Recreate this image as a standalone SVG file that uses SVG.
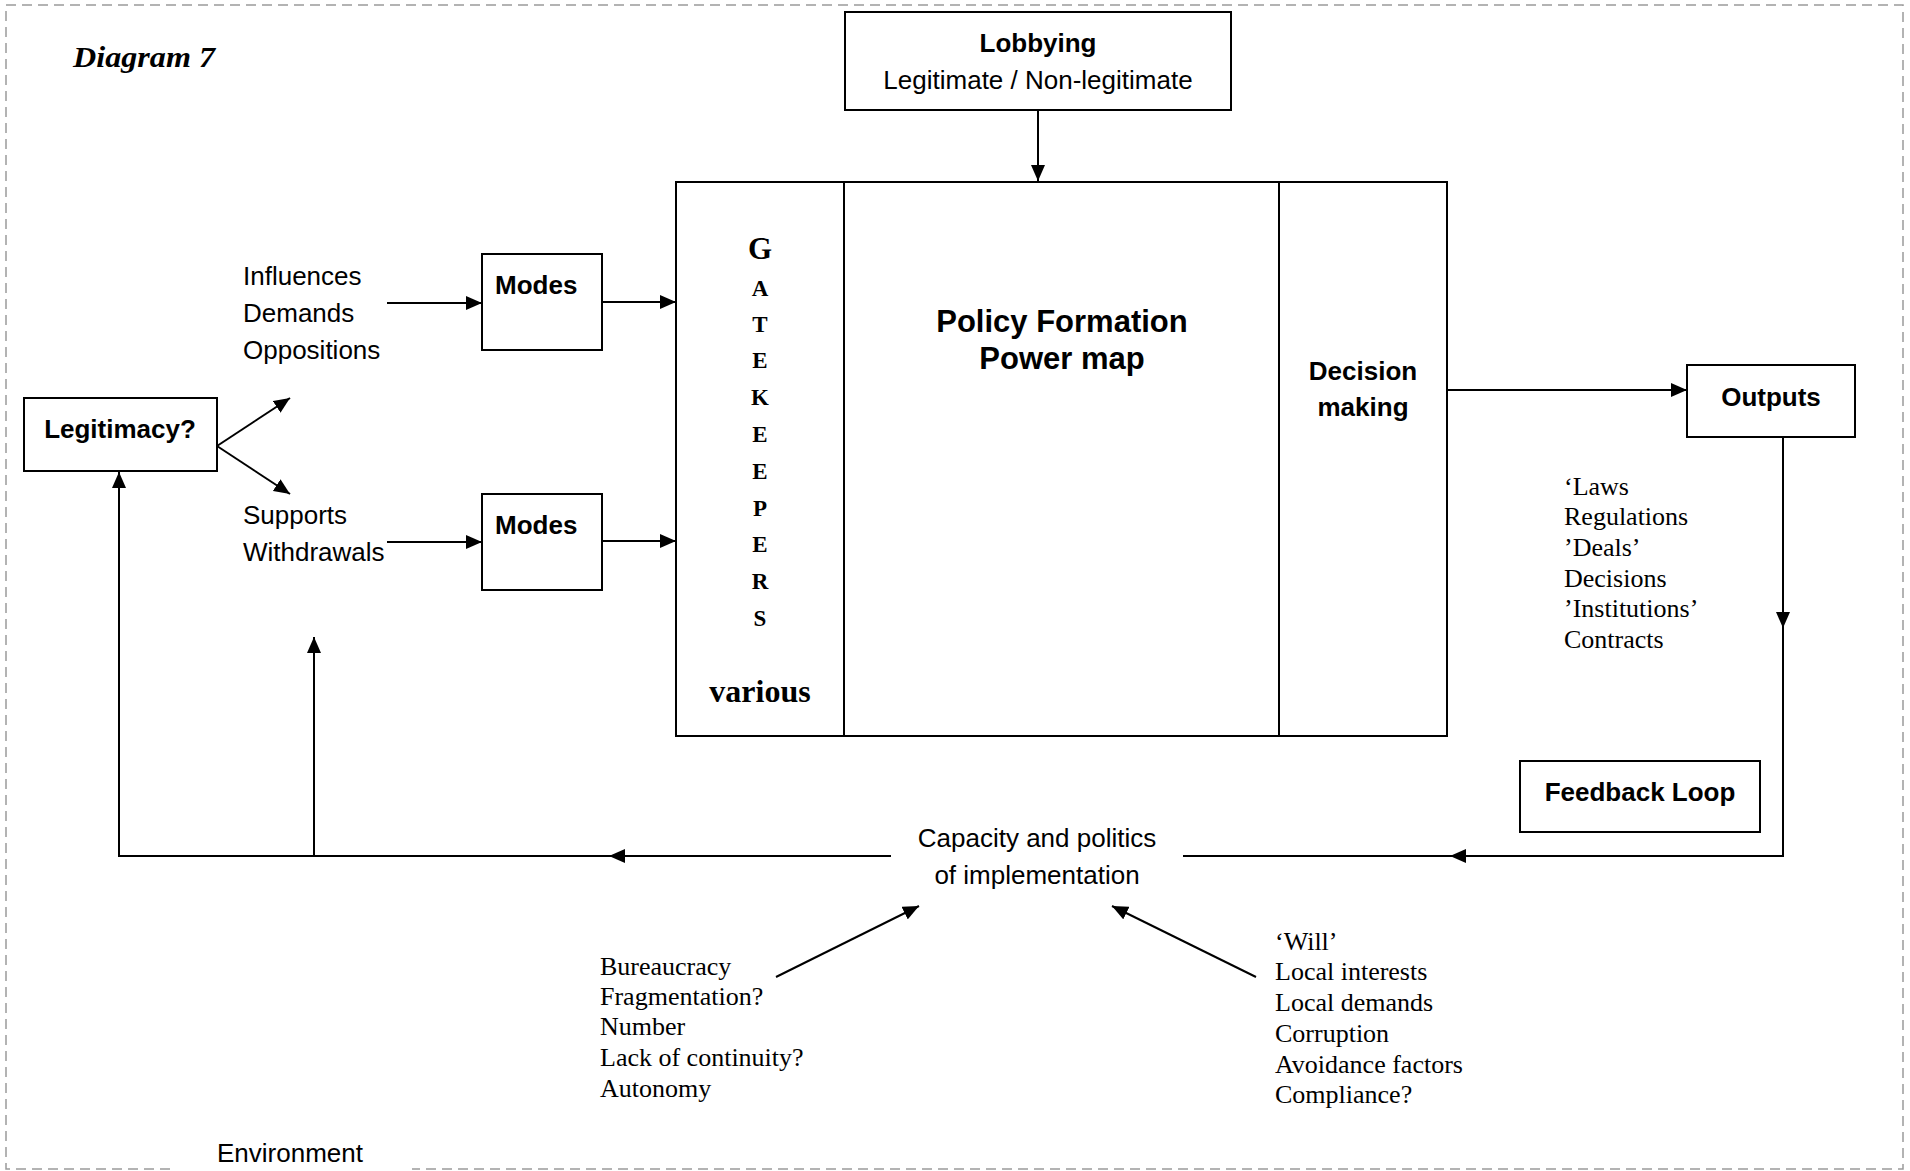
<svg xmlns="http://www.w3.org/2000/svg" width="1910" height="1171" viewBox="0 0 1910 1171">
  <style>
    .sans { font-family: "Liberation Sans", Arial, sans-serif; font-size: 26px; fill: #000; }
    .bold { font-weight: bold; }
    .big { font-size: 31px; }
    .serif { font-family: "Liberation Serif", "Times New Roman", serif; font-size: 26px; fill: #000; }
    .box { fill: #fff; stroke: #000; stroke-width: 2; }
    .conn { fill: none; stroke: #000; stroke-width: 2; }
    .frame { fill: none; stroke: #9a9a9a; stroke-width: 1.5; stroke-dasharray: 10 6; }
    .gk { font-family: "Liberation Serif", "Times New Roman", serif; font-weight: bold; font-size: 23px; text-anchor: middle; }
    .gk-initial { font-size: 31px; }
    .gk-note { font-size: 32px; }
  </style>
  <defs>
    <marker id="arrow" markerUnits="userSpaceOnUse" markerWidth="16" markerHeight="14" refX="16" refY="7" orient="auto">
      <path d="M0,0 L16,7 L0,14 z" fill="#000"/>
    </marker>
  </defs>

  <rect width="1910" height="1171" fill="#fff"/>

  <!-- dashed environment frame, open at the bottom for its label -->
  <path class="frame" d="M170,1169 H6 V5 H1903 V1169 H412"/>
  <text class="sans" x="217" y="1162">Environment</text>

  <text x="73" y="67" font-family="'Liberation Serif', 'Times New Roman', serif" font-size="29" font-weight="bold" font-style="italic" textLength="142" lengthAdjust="spacingAndGlyphs">Diagram 7</text>

  <!-- connectors -->
  <g id="connectors">
    <path class="conn" d="M1038,110 V181" marker-end="url(#arrow)"/>
    <path class="conn" d="M387,303 H482" marker-end="url(#arrow)"/>
    <path class="conn" d="M602,302 H676" marker-end="url(#arrow)"/>
    <path class="conn" d="M387,542 H482" marker-end="url(#arrow)"/>
    <path class="conn" d="M602,541 H676" marker-end="url(#arrow)"/>
    <path class="conn" d="M217,446 L290,398" marker-end="url(#arrow)"/>
    <path class="conn" d="M217,446 L290,494" marker-end="url(#arrow)"/>
    <path class="conn" d="M1447,390 H1687" marker-end="url(#arrow)"/>
    <path class="conn" d="M1783,437 V628" marker-end="url(#arrow)"/>
    <path class="conn" d="M1783,626 V856 H1450" marker-end="url(#arrow)"/>
    <path class="conn" d="M1452,856 H1183"/>
    <path class="conn" d="M891,856 H609" marker-end="url(#arrow)"/>
    <path class="conn" d="M611,856 H119 V472" marker-end="url(#arrow)"/>
    <path class="conn" d="M314,856 V637" marker-end="url(#arrow)"/>
    <path class="conn" d="M776,977 L919,906" marker-end="url(#arrow)"/>
    <path class="conn" d="M1256,977 L1112,906" marker-end="url(#arrow)"/>
  </g>

  <g id="lobbying">
    <rect class="box" x="845" y="12" width="386" height="98"/>
    <text class="sans bold" x="1038" y="52" text-anchor="middle">Lobbying</text>
    <text class="sans" x="1038" y="89" text-anchor="middle">Legitimate / Non-legitimate</text>
  </g>

  <g id="legitimacy">
    <rect class="box" x="24" y="398" width="193" height="73"/>
    <text class="sans bold" x="120" y="438" text-anchor="middle">Legitimacy?</text>
  </g>

  <g id="inputs-upper">
    <text class="sans" x="243" y="285">Influences</text>
    <text class="sans" x="243" y="322">Demands</text>
    <text class="sans" x="243" y="359">Oppositions</text>
  </g>

  <g id="inputs-lower">
    <text class="sans" x="243" y="524">Supports</text>
    <text class="sans" x="243" y="561">Withdrawals</text>
  </g>

  <g id="modes-upper">
    <rect class="box" x="482" y="254" width="120" height="96"/>
    <text class="sans bold" x="495" y="294">Modes</text>
  </g>

  <g id="modes-lower">
    <rect class="box" x="482" y="494" width="120" height="96"/>
    <text class="sans bold" x="495" y="534">Modes</text>
  </g>

  <g id="gatekeepers">
    <rect class="box" x="676" y="182" width="168" height="554"/>
    <text class="gk gk-initial" x="760" y="259">G</text>
    <text class="gk" x="760" y="296">A</text>
    <text class="gk" x="760" y="332">T</text>
    <text class="gk" x="760" y="368">E</text>
    <text class="gk" x="760" y="405">K</text>
    <text class="gk" x="760" y="442">E</text>
    <text class="gk" x="760" y="479">E</text>
    <text class="gk" x="760" y="516">P</text>
    <text class="gk" x="760" y="552">E</text>
    <text class="gk" x="760" y="589">R</text>
    <text class="gk" x="760" y="626">S</text>
    <text class="gk gk-note" x="760" y="702">various</text>
  </g>

  <g id="policy-formation">
    <rect class="box" x="844" y="182" width="435" height="554"/>
    <text class="sans bold big" x="1062" y="332" text-anchor="middle">Policy Formation</text>
    <text class="sans bold big" x="1062" y="369" text-anchor="middle">Power map</text>
  </g>

  <g id="decision-making">
    <rect class="box" x="1279" y="182" width="168" height="554"/>
    <text class="sans bold" x="1363" y="380" text-anchor="middle">Decision</text>
    <text class="sans bold" x="1363" y="416" text-anchor="middle">making</text>
  </g>

  <g id="outputs">
    <rect class="box" x="1687" y="365" width="168" height="72"/>
    <text class="sans bold" x="1771" y="406" text-anchor="middle">Outputs</text>
  </g>

  <g id="output-kinds">
    <text class="serif" x="1564" y="495">‘Laws</text>
    <text class="serif" x="1564" y="525">Regulations</text>
    <text class="serif" x="1564" y="556">’Deals’</text>
    <text class="serif" x="1564" y="587">Decisions</text>
    <text class="serif" x="1564" y="617">’Institutions’</text>
    <text class="serif" x="1564" y="648">Contracts</text>
  </g>

  <g id="feedback-loop">
    <rect class="box" x="1520" y="761" width="240" height="71"/>
    <text class="sans bold" x="1640" y="801" text-anchor="middle">Feedback Loop</text>
  </g>

  <g id="implementation">
    <text class="sans" x="1037" y="847" text-anchor="middle">Capacity and politics</text>
    <text class="sans" x="1037" y="884" text-anchor="middle">of implementation</text>
  </g>

  <g id="bureaucracy-factors">
    <text class="serif" x="600" y="975">Bureaucracy</text>
    <text class="serif" x="600" y="1005">Fragmentation?</text>
    <text class="serif" x="600" y="1035">Number</text>
    <text class="serif" x="600" y="1066">Lack of continuity?</text>
    <text class="serif" x="600" y="1097">Autonomy</text>
  </g>

  <g id="local-factors">
    <text class="serif" x="1275" y="950">‘Will’</text>
    <text class="serif" x="1275" y="980">Local interests</text>
    <text class="serif" x="1275" y="1011">Local demands</text>
    <text class="serif" x="1275" y="1042">Corruption</text>
    <text class="serif" x="1275" y="1073">Avoidance factors</text>
    <text class="serif" x="1275" y="1103">Compliance?</text>
  </g>
</svg>
